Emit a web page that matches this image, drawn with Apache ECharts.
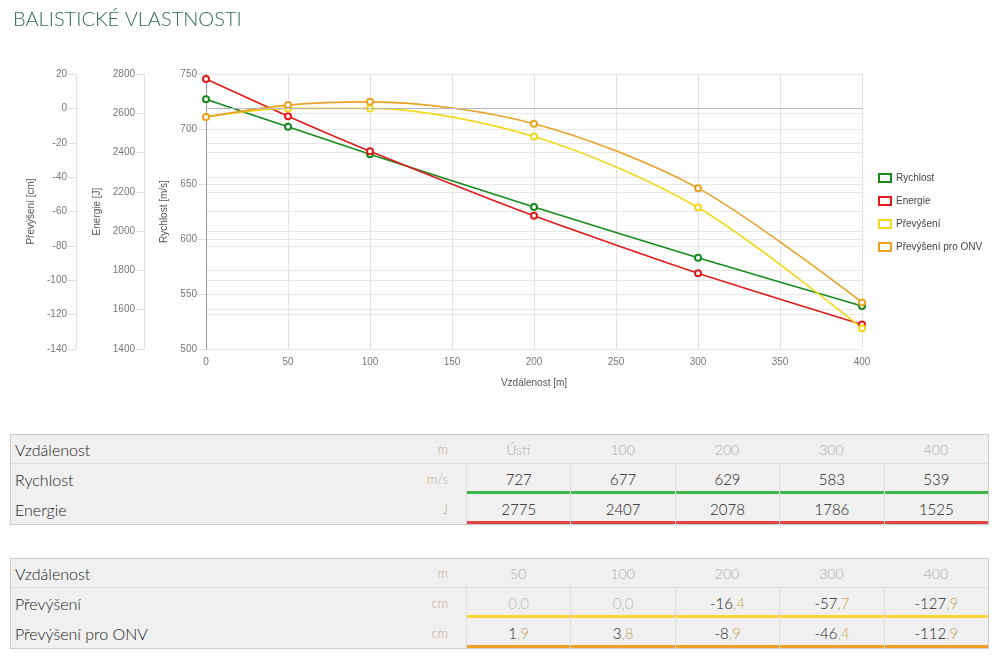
<!DOCTYPE html>
<html lang="cs">
<head>
<meta charset="utf-8">
<title>Balistické vlastnosti</title>
<script src="https://cdn.jsdelivr.net/npm/echarts@6/dist/echarts.min.js"></script>
<style>
  html, body { margin: 0; padding: 0; background: #fff; }
  body { width: 1007px; height: 668px; position: relative; overflow: hidden; font-family: 'Lato', 'Open Sans', sans-serif; }
  #chart { position: absolute; left: 0; top: 0; width: 1007px; height: 400px; }
  .tbl { position: absolute; left: 10px; width: 977px; border: 1px solid #ccc; background: #f0f0f0; box-sizing: content-box; }
  .row { display: flex; height: 30px; position: relative; }
  .row.head { height: 28px; border-bottom: 1px solid #dcdcdc; }
  .lbl { width: 455px; box-sizing: border-box; padding: 0 18px 0 4px; display: flex; align-items: center; justify-content: space-between; font-size: 16px; font-weight: 300; color: #222; }
  .unit { font-size: 13px; color: #b9aa8c; }
  .cell { flex: 1; position: relative; display: flex; align-items: center; justify-content: center; font-size: 15px; font-weight: 300; color: #222; border-left: 1px solid #dcdcdc; }
  .head .cell { border-left: none; color: #aaa; font-size: 14px; }
  .bar { position: absolute; left: 0; right: 0; bottom: 0; height: 3px; }
  .dec { color: #c6a663; }
  .zero { color: #bbb; }
</style>
</head>
<body>
<div id="chart"></div>
<div class="tbl" id="tbl1" style="top:434px"></div>
<div class="tbl" id="tbl2" style="top:558px"></div>
<script>
const distances = [0, 50, 100, 200, 300, 400];
const rychlost = [727, 702, 677, 629, 583, 539];
const energie = [2775, 2585, 2407, 2078, 1786, 1525];
const prevyseni = [-5.0, 0.0, 0.0, -16.4, -57.7, -127.9];
const prevyseniOnv = [-5.0, 1.9, 3.8, -8.9, -46.4, -112.9];

const table1Cols = [0, 100, 200, 300, 400];
const table1Heads = ['Ústí', '100', '200', '300', '400'];
const table2Cols = [50, 100, 200, 300, 400];
const table2Heads = ['50', '100', '200', '300', '400'];

const COLORS = { rychlost: '#168a1e', energie: '#e01b1b', prevyseni: '#f2d91f', onv: '#e9a126' };
const BAR_COLORS = { rychlost: '#3cb54a', energie: '#e24444', prevyseni: '#f7d633', onv: '#eea22a' };

const pairs = (ys) => distances.map((d, i) => [d, ys[i]]);
const valueAt = (ys, d) => ys[distances.indexOf(d)];

const AXIS_FONT = "'Liberation Sans', Arial, sans-serif";

function yAxis(name, min, max, interval, offset, nameGap, lineColor) {
  return {
    type: 'value', position: 'left', offset, min, max, interval,
    name, nameLocation: 'middle', nameGap,
    nameTextStyle: { color: '#555', fontSize: 10, fontFamily: AXIS_FONT },
    axisLine: { show: true, lineStyle: { color: lineColor } },
    axisTick: { show: true, length: 8, lineStyle: { color: '#dedede' } },
    axisLabel: { color: '#777', fontSize: 10, fontFamily: AXIS_FONT, margin: 9, formatter: (v) => String(v) },
    splitLine: { show: true, lineStyle: { color: '#e8e8e8' } },
  };
}

function lineSeries(name, data, color, axis, smooth) {
  return {
    name, type: 'line', yAxisIndex: axis, data, smooth,
    symbol: 'emptyCircle', symbolSize: 6,
    itemStyle: { color, borderWidth: 1.5 },
    lineStyle: { color, width: 1.6 },
  };
}

const chart = echarts.init(document.getElementById('chart'));
const prevSeries = lineSeries('Převýšení', pairs(prevyseni), COLORS.prevyseni, 2, 0.3);
prevSeries.markLine = {
  silent: true, symbol: 'none', label: { show: false },
  lineStyle: { color: '#b5b5b5', type: 'solid', width: 1 },
  data: [{ yAxis: 0 }],
};

chart.setOption({
  animation: false,
  title: {
    text: 'BALISTICKÉ VLASTNOSTI', left: 8, top: 5,
    textStyle: { fontFamily: 'Lato, sans-serif', fontWeight: 300, fontSize: 20, color: '#2e6b50' },
  },
  grid: { left: 206, right: 145, top: 74, bottom: 51 },
  legend: {
    orient: 'vertical', left: 873, top: 167,
    icon: 'rect', itemWidth: 12, itemHeight: 8, itemGap: 11,
    textStyle: { color: '#444', fontSize: 10, fontFamily: AXIS_FONT, lineHeight: 12 },
    data: [
      { name: 'Rychlost', itemStyle: { color: '#fff', borderColor: COLORS.rychlost, borderWidth: 2 } },
      { name: 'Energie', itemStyle: { color: '#fff', borderColor: COLORS.energie, borderWidth: 2 } },
      { name: 'Převýšení', itemStyle: { color: '#fff', borderColor: COLORS.prevyseni, borderWidth: 2 } },
      { name: 'Převýšení pro ONV', itemStyle: { color: '#fff', borderColor: COLORS.onv, borderWidth: 2 } },
    ],
  },
  xAxis: {
    type: 'value', min: 0, max: 400, interval: 50,
    name: 'Vzdálenost [m]', nameLocation: 'middle', nameGap: 29,
    nameTextStyle: { color: '#555', fontSize: 10, fontFamily: AXIS_FONT },
    axisLine: { lineStyle: { color: '#9a9a9a' } },
    axisTick: { show: false },
    axisLabel: { color: '#777', fontSize: 10, fontFamily: AXIS_FONT, margin: 8 },
    splitLine: { show: true, lineStyle: { color: '#e3e3e3' } },
  },
  yAxis: [
    yAxis('Rychlost [m/s]', 500, 750, 50, 0, 28, '#9a9a9a'),
    yAxis('Energie [J]', 1400, 2800, 200, 62, 34, '#e2e2e2'),
    yAxis('Převýšení [cm]', -140, 20, 20, 130, 37, '#e2e2e2'),
  ],
  series: [
    lineSeries('Rychlost', pairs(rychlost), COLORS.rychlost, 0, 0.2),
    lineSeries('Energie', pairs(energie), COLORS.energie, 1, 0.2),
    prevSeries,
    lineSeries('Převýšení pro ONV', pairs(prevyseniOnv), COLORS.onv, 2, 0.3),
  ],
});

function fmtInt(v) { return String(v); }
function fmtDec(v) {
  if (v === 0) return '<span class="zero">0,0</span>';
  const s = v.toFixed(1).split('.');
  return s[0] + '<span class="dec">,' + s[1] + '</span>';
}

function buildTable(el, heads, cols, rows) {
  let html = '<div class="row head"><div class="lbl">Vzdálenost<span class="unit">m</span></div>';
  for (const h of heads) html += '<div class="cell">' + h + '</div>';
  html += '</div>';
  for (const r of rows) {
    html += '<div class="row"><div class="lbl">' + r.label + '<span class="unit">' + r.unit + '</span></div>';
    for (const d of cols) {
      html += '<div class="cell">' + r.fmt(valueAt(r.values, d)) +
        '<div class="bar" style="background:' + r.bar + '"></div></div>';
    }
    html += '</div>';
  }
  el.innerHTML = html;
}

buildTable(document.getElementById('tbl1'), table1Heads, table1Cols, [
  { label: 'Rychlost', unit: 'm/s', values: rychlost, fmt: fmtInt, bar: BAR_COLORS.rychlost },
  { label: 'Energie', unit: 'J', values: energie, fmt: fmtInt, bar: BAR_COLORS.energie },
]);
buildTable(document.getElementById('tbl2'), table2Heads, table2Cols, [
  { label: 'Převýšení', unit: 'cm', values: prevyseni, fmt: fmtDec, bar: BAR_COLORS.prevyseni },
  { label: 'Převýšení pro ONV', unit: 'cm', values: prevyseniOnv, fmt: fmtDec, bar: BAR_COLORS.onv },
]);
</script>
</body>
</html>
